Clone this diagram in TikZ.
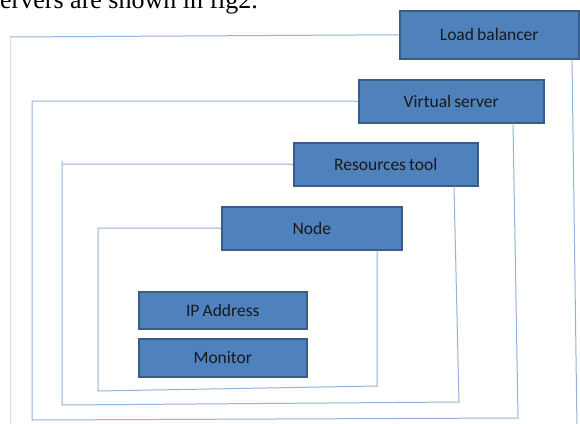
\documentclass[tikz,border=0pt]{standalone}
\usepackage{fontspec}
\setmainfont{Liberation Serif}
\newfontfamily\boxfont[WordSpace={0.8}]{Carlito}
\definecolor{boxfill}{HTML}{4F81BD}
\definecolor{boxborder}{HTML}{385D8A}
\definecolor{linec}{HTML}{95B3D7}
\definecolor{linefaint}{HTML}{D5E0EE}
\begin{document}
\begin{tikzpicture}[x=1pt,y=-1pt,
  box/.style={draw=boxborder, line width=1.5pt, fill=boxfill, inner sep=0pt,
    anchor=north west, text=black!90, font=\boxfont\fontsize{17.5}{19}\selectfont},
  conn/.style={draw=linec, line width=1pt},
  faint/.style={draw=linefaint, line width=1pt}]
\useasboundingbox (0,0) rectangle (580,423);
\clip (0,0) rectangle (580,423);
\fill[white] (0,0) rectangle (580,423);
% cut-off caption text
\node[anchor=base west, inner sep=0pt, font=\fontsize{26}{30}\selectfont] (cap) at (0,9) {ervers are shown in fig2.};
% boxes
\node[box, minimum width=179pt, minimum height=48pt] (lb) at (399,10) {Load balancer};
\node[box, minimum width=185pt, minimum height=43pt] (vs) at (358,79) {Virtual server};
\node[box, minimum width=184pt, minimum height=43pt] (rt) at (293,142) {Resources tool};
\node[box, minimum width=180pt, minimum height=43pt] (nd) at (221,206) {Node};
\node[box, minimum width=168pt, minimum height=37pt] (ip) at (138,291) {IP Address};
\node[box, minimum width=168pt, minimum height=38pt] (mo) at (138,338) {Monitor};
% load balancer frame
\coordinate (lbtl) at (10,37);
\coordinate (lbbl) at (10,430);
\coordinate (lbbr) at (577,430);
\draw[conn] (lb.west) -- (lbtl);
\draw[faint] (lbtl) -- (lbbl);
\draw[conn] (lb.south -| 572,0) -- (lbbr);
% virtual server frame
\coordinate (vstl) at (32,101);
\coordinate (vsbl) at (32,420);
\coordinate (vsbr) at (518,418);
\draw[conn] (vs.west) -- (vstl) -- (vsbl) -- (vsbr) -- (vs.south -| 513,0);
% resources tool frame
\coordinate (rttl) at (62,164);
\coordinate (rttick) at (62,161);
\coordinate (rtbl) at (62,405);
\coordinate (rtbr) at (459,402);
\draw[conn] (rt.west) -- (rttl);
\draw[conn] (rttick) -- (rtbl) -- (rtbr) -- (rt.south -| 454,0);
% node frame
\coordinate (ndtl) at (98,228);
\coordinate (ndbl) at (98,391);
\coordinate (ndbr) at (377,386);
\draw[conn] (nd.west) -- (ndtl) -- (ndbl) -- (ndbr) -- (nd.south -| 377,0);
\end{tikzpicture}
\end{document}
